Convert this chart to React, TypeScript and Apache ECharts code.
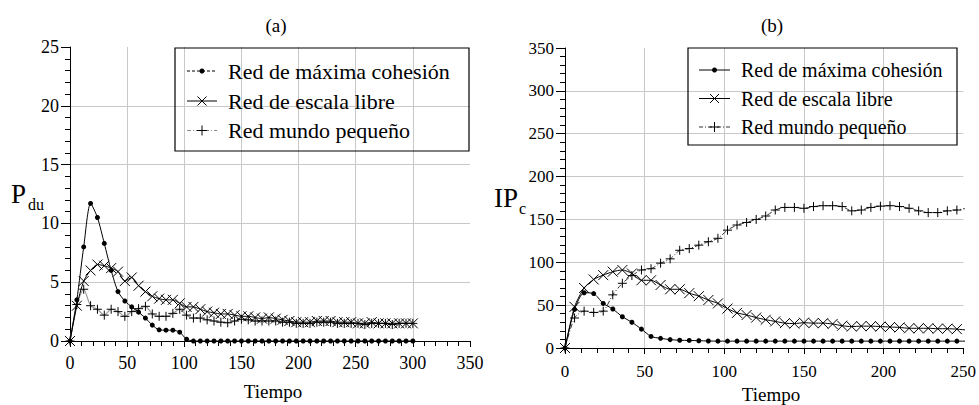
import React, { useEffect, useRef } from 'react';
import * as echarts from 'echarts';

const FONT = 'Liberation Serif';

// ---------- Data: panel (a) P_du ----------
const leftTime = [0, 6, 12, 18, 24, 30, 36, 42, 48, 54, 60, 66, 72, 78, 84, 90, 96, 102, 108, 114, 120, 126, 132, 138, 144, 150, 156, 162, 168, 174, 180, 186, 192, 198, 204, 210, 216, 222, 228, 234, 240, 246, 252, 258, 264, 270, 276, 282, 288, 294, 300];
const leftCohesion = [0, 3.5, 8.0, 11.7, 10.5, 8.3, 6.0, 4.2, 3.4, 2.9, 2.45, 1.95, 1.35, 0.95, 0.92, 0.92, 0.75, 0.15, 0, 0, 0, 0, 0, 0, 0, 0, 0, 0, 0, 0, 0, 0, 0, 0, 0, 0, 0, 0, 0, 0, 0, 0, 0, 0, 0, 0, 0, 0, 0, 0, 0];
const leftScaleFree = [0, 3.0, 5.1, 6.0, 6.5, 6.4, 6.2, 5.9, 5.1, 5.4, 4.7, 4.2, 3.8, 3.6, 3.5, 3.5, 3.2, 2.9, 2.9, 2.7, 2.5, 2.4, 2.3, 2.3, 2.2, 2.1, 2.1, 2.0, 1.9, 2.0, 1.9, 1.8, 1.7, 1.6, 1.6, 1.6, 1.7, 1.7, 1.7, 1.6, 1.6, 1.6, 1.5, 1.5, 1.6, 1.5, 1.5, 1.5, 1.5, 1.5, 1.5];
const leftSmallWorld = [0, 3.1, 4.4, 3.0, 2.7, 2.2, 2.7, 2.5, 2.1, 2.5, 2.75, 2.95, 2.3, 2.1, 2.1, 2.35, 2.7, 2.2, 1.95, 1.95, 1.8, 1.7, 1.6, 1.55, 1.7, 1.85, 1.8, 1.7, 1.7, 1.7, 1.7, 1.6, 1.6, 1.5, 1.5, 1.5, 1.6, 1.6, 1.6, 1.5, 1.5, 1.5, 1.5, 1.4, 1.5, 1.5, 1.5, 1.4, 1.5, 1.5, 1.5];

// ---------- Data: panel (b) IP_c ----------
const rightTime = [0, 6, 12, 18, 24, 30, 36, 42, 48, 54, 60, 66, 72, 78, 84, 90, 96, 102, 108, 114, 120, 126, 132, 138, 144, 150, 156, 162, 168, 174, 180, 186, 192, 198, 204, 210, 216, 222, 228, 234, 240, 246, 252];
const rightCohesion = [0, 45, 64.5, 63.5, 52, 45.5, 36.5, 30, 22, 13.5, 11.3, 9.8, 9, 8.8, 8.5, 8.2, 8, 8, 8, 8, 8, 8, 8, 8, 8, 8, 8, 8, 8, 8, 8, 8, 8, 8, 8, 8, 8, 8, 8, 8, 8, 8, 8];
const rightScaleFree = [0, 48, 70, 80, 85, 89, 91, 87, 79, 79, 73.5, 68.5, 68.5, 64, 60.5, 56, 52, 46, 41, 38.5, 35.5, 33, 31, 29, 28.5, 29.5, 29, 29, 28, 26, 25, 25.5, 25.5, 25, 24.5, 24, 23, 23, 23, 22.5, 22.5, 22, 21];
const rightSmallWorld = [0, 35, 43, 41.5, 43, 62, 75.5, 84.5, 91, 92.5, 99, 104, 114, 116, 120, 124, 128, 137.5, 143.5, 146.5, 150, 154, 161, 164, 164, 163, 165, 166, 166, 165, 160, 161, 164, 165.5, 166, 165, 163, 160, 158, 158, 160, 161, 163];

const seriesNames = ['Red de máxima cohesión', 'Red de escala libre', 'Red mundo pequeño'];
const leftTicks = { min: 0, max: 25, interval: 5 };
const rightTicks = { min: 0, max: 350, interval: 50 };
const leftXTicks = { min: 0, max: 350, interval: 50 };
const rightXTicks = { min: 0, max: 250, interval: 50 };

const X_SYMBOL = 'path://M0,0L10,10M10,0L0,10';
const PLUS_SYMBOL = 'path://M5,0L5,10M0,5L10,5';

const pairs = (t: number[], v: number[]) => t.map((x, i) => [x, v[i]]);

function axisCommon(fontSize: number, majorLen: number, margin: number) {
  return {
    type: 'value' as const,
    axisLine: { show: true, lineStyle: { color: '#000', width: 1 } },
    axisTick: { show: true, inside: false, length: majorLen, lineStyle: { color: '#000', width: 1 } },
    minorTick: { show: true, splitNumber: 5, length: 5, lineStyle: { color: '#000', width: 1 } },
    splitLine: { show: true, showMinLine: false, showMaxLine: false, lineStyle: { color: '#c8c8c8', width: 1 } },
    minorSplitLine: { show: false },
    axisLabel: { color: '#000', fontFamily: FONT, fontSize, margin },
  };
}

function text(x: number, y: number, t: string, size: number, align = 'center', va = 'middle') {
  return {
    type: 'text',
    x,
    y,
    z: 100,
    style: {
      text: t,
      fontFamily: FONT,
      fontSize: size,
      fill: '#000',
      align,
      verticalAlign: va,
    },
  };
}

type Row = { name: string; y: number; kind: 'dot' | 'x' | 'plus'; dash: number[] | null; color: string };

function legendBox(box: { x: number; y: number; w: number; h: number }, lineX1: number, lineX2: number, textX: number, fontSize: number, rows: Row[]) {
  const els: any[] = [
    { type: 'rect', z: 100, shape: { x: box.x, y: box.y, width: box.w, height: box.h }, style: { fill: 'none', stroke: '#000', lineWidth: 1.2 } },
  ];
  const cx = (lineX1 + lineX2) / 2;
  rows.forEach((r) => {
    els.push({ type: 'line', z: 100, shape: { x1: lineX1, y1: r.y, x2: lineX2, y2: r.y }, style: { stroke: r.color, lineWidth: 1, lineDash: r.dash || undefined } });
    if (r.kind === 'dot') {
      els.push({ type: 'circle', z: 101, shape: { cx, cy: r.y, r: 2.5 }, style: { fill: '#000' } });
    } else if (r.kind === 'x') {
      const s = 4.5;
      els.push({ type: 'line', z: 101, shape: { x1: cx - s, y1: r.y - s, x2: cx + s, y2: r.y + s }, style: { stroke: '#000', lineWidth: 1 } });
      els.push({ type: 'line', z: 101, shape: { x1: cx - s, y1: r.y + s, x2: cx + s, y2: r.y - s }, style: { stroke: '#000', lineWidth: 1 } });
    } else {
      const s = 5;
      els.push({ type: 'line', z: 101, shape: { x1: cx, y1: r.y - s, x2: cx, y2: r.y + s }, style: { stroke: '#000', lineWidth: 1 } });
      els.push({ type: 'line', z: 101, shape: { x1: cx - s, y1: r.y, x2: cx + s, y2: r.y }, style: { stroke: '#000', lineWidth: 1 } });
    }
    els.push(text(textX, r.y, r.name, fontSize, 'left', 'middle'));
  });
  return els;
}

function lineSeries(name: string, grid: number, data: number[][], kind: 'dot' | 'x' | 'plus', lineColor: string, lineType: any, width = 1) {
  const symbol = kind === 'dot' ? 'circle' : kind === 'x' ? X_SYMBOL : PLUS_SYMBOL;
  const size = kind === 'dot' ? 5 : kind === 'x' ? 10 : 9;
  return {
    name,
    type: 'line',
    xAxisIndex: grid,
    yAxisIndex: grid,
    data,
    smooth: 0.25,
    symbol,
    symbolSize: size,
    showAllSymbol: true,
    silent: true,
    lineStyle: { color: lineColor, width, type: lineType },
    itemStyle: kind === 'dot' ? { color: '#000', borderWidth: 0 } : { color: '#000', borderColor: '#000', borderWidth: 1 },
    emphasis: { disabled: true },
  };
}

export default function App() {
  const ref = useRef<HTMLDivElement>(null);
  useEffect(() => {
    if (!ref.current) return;
    const chart = echarts.init(ref.current, undefined, { renderer: 'svg' });

    const leftRows: Row[] = [
      { name: seriesNames[0], y: 71, kind: 'dot', dash: [3, 2], color: '#000' },
      { name: seriesNames[1], y: 101, kind: 'x', dash: null, color: '#000' },
      { name: seriesNames[2], y: 130.5, kind: 'plus', dash: [4, 2, 1, 2], color: '#888' },
    ];
    const rightRows: Row[] = [
      { name: seriesNames[0], y: 70, kind: 'dot', dash: null, color: '#000' },
      { name: seriesNames[1], y: 98.5, kind: 'x', dash: null, color: '#000' },
      { name: seriesNames[2], y: 127, kind: 'plus', dash: [4, 2, 1, 2], color: '#333' },
    ];

    const option: any = {
      animation: false,
      backgroundColor: '#fff',
      textStyle: { fontFamily: FONT },
      grid: [
        { left: 70, top: 47, width: 400, height: 294 },
        { left: 565, top: 48, width: 400, height: 300 },
      ],
      xAxis: [
        { ...axisCommon(18, 6, 13), gridIndex: 0, ...leftXTicks },
        { ...axisCommon(17, 6, 15), gridIndex: 1, ...rightXTicks },
      ],
      yAxis: [
        { ...axisCommon(18, 9, 11), gridIndex: 0, ...leftTicks },
        { ...axisCommon(17, 9, 11), gridIndex: 1, ...rightTicks },
      ],
      series: [
        lineSeries(seriesNames[2], 0, pairs(leftTime, leftSmallWorld), 'plus', '#999', 'solid', 1.2),
        lineSeries(seriesNames[1], 0, pairs(leftTime, leftScaleFree), 'x', '#000', 'solid'),
        lineSeries(seriesNames[0], 0, pairs(leftTime, leftCohesion), 'dot', '#000', 'solid'),
        lineSeries(seriesNames[2], 1, pairs(rightTime, rightSmallWorld), 'plus', '#333', [5, 2, 1, 2]),
        lineSeries(seriesNames[1], 1, pairs(rightTime, rightScaleFree), 'x', '#000', 'solid'),
        lineSeries(seriesNames[0], 1, pairs(rightTime, rightCohesion), 'dot', '#000', 'solid'),
      ],
      graphic: [
        text(276, 25, '(a)', 19),
        text(772, 25, '(b)', 19),
        text(273, 391, 'Tiempo', 19),
        text(771, 394, 'Tiempo', 19),
        text(11, 194, 'P', 27, 'left', 'middle'),
        text(28, 204, 'du', 16, 'left', 'middle'),
        text(494, 198, 'IP', 27, 'left', 'middle'),
        text(519, 208, 'c', 16, 'left', 'middle'),
        ...legendBox({ x: 175, y: 48, w: 294, h: 103 }, 187, 217, 228, 22, leftRows),
        ...legendBox({ x: 688, y: 48, w: 269, h: 97 }, 699, 730, 741, 20, rightRows),
      ],
    };
    chart.setOption(option);
    return () => chart.dispose();
  }, []);
  return <div ref={ref} style={{ position: 'absolute', left: 0, top: 0, width: 979, height: 405 }} />;
}
